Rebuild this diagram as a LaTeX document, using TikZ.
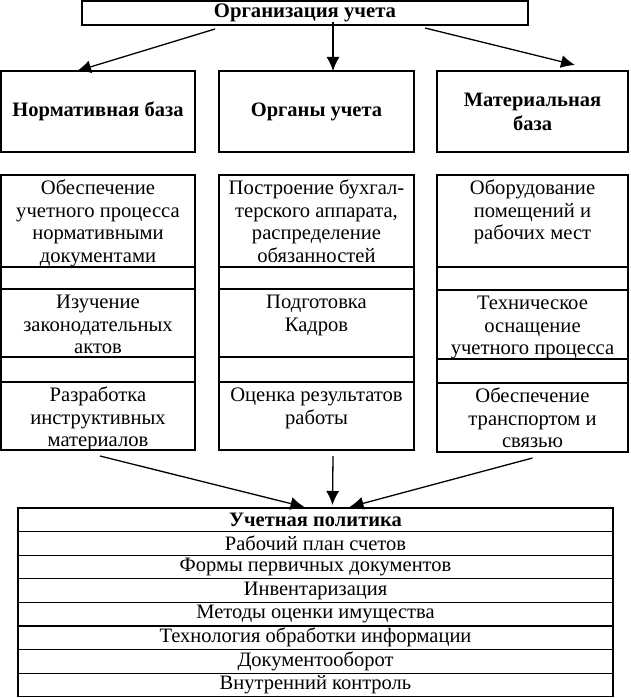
\documentclass[tikz,border=0pt]{standalone}
\usepackage{fontspec}
\setmainfont{Liberation Serif}
\usetikzlibrary{arrows.meta, positioning}

\begin{document}
\begin{tikzpicture}[x=1pt, y=-1pt,
        box/.style={draw, line width=1.2pt, inner sep=0pt, outer sep=0pt},
        head/.style={box, minimum width=194pt, minimum height=81pt, align=center, font=\fontsize{20.5}{24}\selectfont\bfseries},
        cell/.style={box, minimum width=194pt},
        txt/.style={anchor=north, align=center, inner sep=0pt, font=\fontsize{20.6}{22.5}\selectfont},
        row/.style={box, minimum width=595pt, minimum height=23.6pt, font=\fontsize{20.5}{22}\selectfont},
        arr/.style={-{Latex[length=14pt, width=13pt]}, line width=1.3pt}]
        \useasboundingbox (0,0) rectangle (630,698);

        % top
        \node[box, minimum width=446pt, minimum height=24pt, font=\fontsize{20.7}{24}\selectfont\bfseries] (org) at (305,13) {Организация учета};

        \node[head] (norm) at (98,111.5) {Нормативная база};
        \node[head, minimum width=195pt] (organ) at (316.5,111.5) {Органы учета};
        \node[head, minimum width=191pt] (mat) at (532.5,111.5) {Материальная\\база};

        % columns
        \node[cell, minimum height=92pt, anchor=north] (n1) at (98,175) {};
        \node[cell, minimum height=22pt, below=0pt of n1] (n1g) {};
        \node[cell, minimum height=68pt, below=0pt of n1g] (n2) {};
        \node[cell, minimum height=25pt, below=0pt of n2] (n2g) {};
        \node[cell, minimum height=68pt, below=0pt of n2g] (n3) {};

        \node[cell, minimum width=195pt, minimum height=92pt, anchor=north] (o1) at (316.5,175) {};
        \node[cell, minimum width=195pt, minimum height=22pt, below=0pt of o1] (o1g) {};
        \node[cell, minimum width=195pt, minimum height=68pt, below=0pt of o1g] (o2) {};
        \node[cell, minimum width=195pt, minimum height=25pt, below=0pt of o2] (o2g) {};
        \node[cell, minimum width=195pt, minimum height=68pt, below=0pt of o2g] (o3) {};

        \node[cell, minimum width=191pt, minimum height=92pt, anchor=north] (m1) at (532.5,175) {};
        \node[cell, minimum width=191pt, minimum height=23pt, below=0pt of m1] (m1g) {};
        \node[cell, minimum width=191pt, minimum height=69pt, below=0pt of m1g] (m2) {};
        \node[cell, minimum width=191pt, minimum height=24pt, below=0pt of m2] (m2g) {};
        \node[cell, minimum width=191pt, minimum height=69pt, below=0pt of m2g] (m3) {};

        \node[txt] (n1t) at ([yshift=-4pt]n1.north) {\strut Обеспечение\\учетного процесса\\нормативными\\документами};
        \node[txt] (n2t) at ([yshift=-4pt]n2.north) {\strut Изучение\\законодательных\\актов};
        \node[txt] (n3t) at ([yshift=-4pt]n3.north) {\strut Разработка\\инструктивных\\материалов};
        \node[txt] (o1t) at ([yshift=-4pt]o1.north) {\strut Построение бухгал-\\терского аппарата,\\распределение\\обязанностей};
        \node[txt] (o2t) at ([yshift=-4pt]o2.north) {\strut Подготовка\\Кадров};
        \node[txt] (o3t) at ([yshift=-4pt]o3.north) {\strut Оценка результатов\\работы};
        \node[txt] (m1t) at ([yshift=-4pt]m1.north) {\strut Оборудование\\помещений и\\рабочих мест};
        \node[txt] (m2t) at ([yshift=-4pt]m2.north) {\strut Техническое\\оснащение\\учетного процесса};
        \node[txt] (m3t) at ([yshift=-4pt]m3.north) {\strut Обеспечение\\транспортом и\\связью};

        % policy table
        \node[row, font=\fontsize{20.5}{22}\selectfont\bfseries] (pol) at (315.5,519.8) {Учетная политика};
        \node[row, below=0pt of pol] (p1) {Рабочий план счетов};
        \node[row, below=0pt of p1] (p2) {Формы первичных документов};
        \node[row, below=0pt of p2] (p3) {Инвентаризация};
        \node[row, below=0pt of p3] (p4) {Методы оценки имущества};
        \node[row, below=0pt of p4] (p5) {Технология обработки информации};
        \node[row, below=0pt of p5] (p6) {Документооборот};
        \node[row, below=0pt of p6] (p7) {Внутренний контроль};

        \draw[arr] ([xshift=-90pt, yshift=-4pt]org.south) -- ([xshift=-21pt]norm.north);
        \draw[arr] ([xshift=28pt, yshift=3pt]org.south) -- ([xshift=16.5pt]organ.north);
        \draw[arr] ([xshift=120pt, yshift=-3pt]org.south) -- ([xshift=42.5pt, yshift=6pt]mat.north);

        \draw[arr] ([xshift=2pt, yshift=-6pt]n3.south) -- ([xshift=-11pt, yshift=1pt]pol.north);
        \draw[arr] ([xshift=16.5pt, yshift=-6pt]o3.south) -- ([xshift=17pt, yshift=3pt]pol.north);
        \draw[arr] ([yshift=-6pt]m3.south) -- ([xshift=34pt, yshift=1pt]pol.north);
    \end{tikzpicture}
\end{document}
